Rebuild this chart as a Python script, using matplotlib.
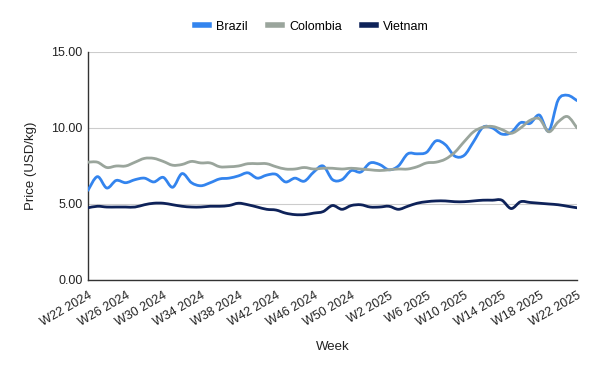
import numpy as np
import matplotlib
matplotlib.use("Agg")
import matplotlib.pyplot as plt
from matplotlib.path import Path
from matplotlib.patches import PathPatch
from matplotlib.lines import Line2D

plt.rcParams["font.family"] = ["Liberation Sans", "DejaVu Sans"]

# weekly labels W22 2024 .. W22 2025
weeks = [f"W{w} 2024" for w in range(22, 53)] + [f"W{w} 2025" for w in range(1, 23)]

brazil = [5.9, 6.8, 6.05, 6.55, 6.4, 6.6, 6.7, 6.45, 6.75, 6.1,
          7.0, 6.4, 6.2, 6.4, 6.65, 6.7, 6.85, 7.05, 6.7, 6.9,
          6.95, 6.45, 6.7, 6.5, 7.1, 7.5, 6.6, 6.6, 7.2, 7.1,
          7.7, 7.6, 7.25, 7.5, 8.3, 8.3, 8.4, 9.15, 8.9, 8.15,
          8.2, 9.1, 10.05, 10.0, 9.6, 9.7, 10.35, 10.3, 10.85, 9.8,
          11.85, 12.15, 11.8]
colombia = [7.75, 7.75, 7.4, 7.5, 7.5, 7.75, 8.0, 8.0, 7.8, 7.55,
            7.6, 7.8, 7.7, 7.7, 7.45, 7.45, 7.5, 7.65, 7.65, 7.65,
            7.45, 7.3, 7.3, 7.4, 7.3, 7.35, 7.35, 7.3, 7.35, 7.3,
            7.25, 7.2, 7.25, 7.3, 7.3, 7.45, 7.7, 7.75, 7.95, 8.4,
            9.1, 9.75, 10.05, 10.1, 9.9, 9.65, 10.0, 10.5, 10.6, 9.75,
            10.4, 10.75, 10.0]
vietnam = [4.75, 4.85, 4.8, 4.8, 4.8, 4.8, 4.95, 5.05, 5.05, 4.95,
           4.85, 4.8, 4.8, 4.85, 4.85, 4.9, 5.05, 4.95, 4.8, 4.65,
           4.6, 4.4, 4.3, 4.3, 4.4, 4.5, 4.9, 4.65, 4.9, 4.95,
           4.8, 4.8, 4.85, 4.65, 4.85, 5.05, 5.15, 5.2, 5.2, 5.15,
           5.15, 5.2, 5.25, 5.25, 5.25, 4.7, 5.15, 5.1, 5.05, 5.0,
           4.95, 4.85, 4.75]

series = [("Brazil", brazil, "#3384ee"),
          ("Colombia", colombia, "#9aa59c"),
          ("Vietnam", vietnam, "#0e2259")]


def smooth_path(x, y):
    """Catmull-Rom style Bezier path through the points (like curveType 'function')."""
    x = np.asarray(x, float); y = np.asarray(y, float)
    verts = [(x[0], y[0])]
    codes = [Path.MOVETO]
    n = len(x)
    for i in range(n - 1):
        p0 = i - 1 if i > 0 else i
        p3 = i + 2 if i + 2 < n else i + 1
        c1 = (x[i] + (x[i + 1] - x[p0]) / 6, y[i] + (y[i + 1] - y[p0]) / 6)
        c2 = (x[i + 1] - (x[p3] - x[i]) / 6, y[i + 1] - (y[p3] - y[i]) / 6)
        verts += [c1, c2, (x[i + 1], y[i + 1])]
        codes += [Path.CURVE4] * 3
    return Path(verts, codes)


fig = plt.figure(figsize=(6, 3.71), dpi=100)
ax = fig.add_axes([0.1467, 0.2453, 0.815, 0.6146])

xs = np.arange(len(weeks))
for name, vals, col in series:
    ax.add_patch(PathPatch(smooth_path(xs, vals), facecolor="none", edgecolor=col,
                           lw=2, capstyle="round", joinstyle="round", zorder=3))

ax.set_xlim(0, len(weeks) - 1)
ax.set_ylim(0, 15)
ax.set_yticks([0, 5, 10, 15])
ax.set_yticklabels([f"{v:.2f}" for v in [0, 5, 10, 15]])
ax.set_xticks(xs[::4])
ax.set_xticklabels(weeks[::4], rotation=30, ha="right", rotation_mode="anchor")
ax.tick_params(axis="both", labelsize=9, colors="#222222", length=0, pad=4)
ax.tick_params(axis="x", pad=7)
ax.grid(axis="y", color="#cccccc", lw=0.8)
ax.set_axisbelow(True)
for s in ["top", "right"]:
    ax.spines[s].set_visible(False)
for s in ["left", "bottom"]:
    ax.spines[s].set_color("#333333")
    ax.spines[s].set_linewidth(1)

ax.set_xlabel("Week", fontsize=9.5, color="#222222", labelpad=9)
ax.set_ylabel("Price (USD/kg)", fontsize=9.5, color="#222222", labelpad=10)

handles = [Line2D([0], [0], color=c, lw=4) for _, _, c in series]
fig.legend(handles, [n for n, _, _ in series], loc="center", bbox_to_anchor=(0.52, 0.928),
           ncol=3, frameon=False, fontsize=9, handlelength=1.1, handletextpad=0.6,
           columnspacing=1.6)

fig.savefig("out.png", dpi=100)
